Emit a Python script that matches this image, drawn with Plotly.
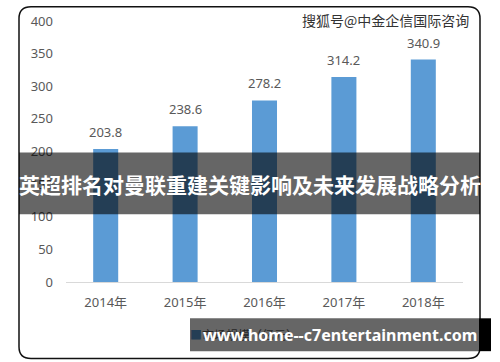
import plotly.graph_objects as go

years = ["2014年", "2015年", "2016年", "2017年", "2018年"]
values = [203.8, 238.6, 278.2, 314.2, 340.9]
value_labels = ["203.8", "238.6", "278.2", "314.2", "340.9"]
y_ticks = [0, 50, 100, 150, 200, 250, 300, 350, 400]
series_name = "市场规模（亿元）"
banner_title = "英超排名对曼联重建关键影响及未来发展战略分析"
watermark = "搜狐号@中金企信国际咨询"
site_text = "www.home--c7entertainment.com"

W, H = 500, 362
PL, PR, PT, PB = 66, 463, 16, 282


def px(x):
    return (x - PL) / (PR - PL)


def py(y):
    return (PB - y) / (PB - PT)


fig = go.Figure()
fig.add_trace(go.Bar(
    x=years, y=values,
    marker=dict(color="#5B9BD5", line=dict(width=0)),
    name=series_name, showlegend=False,
))

# rounded border
L, T, R, B, r = 19, 1.5, 480, 360, 12
path = (
    f"M {px(L + r)},{py(T)} L {px(R - r)},{py(T)} Q {px(R)},{py(T)} {px(R)},{py(T + r)} "
    f"L {px(R)},{py(B - r)} Q {px(R)},{py(B)} {px(R - r)},{py(B)} "
    f"L {px(L + r)},{py(B)} Q {px(L)},{py(B)} {px(L)},{py(B - r)} "
    f"L {px(L)},{py(T + r)} Q {px(L)},{py(T)} {px(L + r)},{py(T)} Z"
)
shapes = [
    dict(type="path", path=path, xref="paper", yref="paper",
         line=dict(color="#111111", width=1.5), layer="below"),
    dict(type="rect", xref="paper", yref="paper", x0=px(19), x1=px(480), y0=py(150), y1=py(213),
         fillcolor="rgba(0,0,0,0.6)", line=dict(width=0), layer="above"),
    dict(type="rect", xref="paper", yref="paper", x0=px(190), x1=px(479), y0=py(319), y1=py(352.5),
         fillcolor="rgba(0,0,0,0.6)", line=dict(width=0), layer="above"),
    dict(type="rect", xref="paper", yref="paper", x0=px(479), x1=px(491), y0=py(319), y1=py(352.5),
         fillcolor="#000000", line=dict(width=0), layer="above"),
]

annotations = [
    dict(x=yr, y=v, xref="x", yref="y", xanchor="center", yanchor="bottom", yshift=6,
         text=lbl, showarrow=False, font=dict(size=13, color="#595959", family="Noto Sans"))
    for yr, v, lbl in zip(years, values, value_labels)
]
annotations += [
    dict(x=px(188), y=py(336), xref="paper", yref="paper", xanchor="left", yanchor="middle",
         text=f"<span style='color:#243E55'>■</span>{series_name}", showarrow=False,
         font=dict(size=12, color="#262626", family="Noto Sans CJK SC")),
    dict(x=px(250), y=py(182), xref="paper", yref="paper", xanchor="center", yanchor="middle",
         text=f"<b>{banner_title}</b>", showarrow=False,
         font=dict(size=21, color="#FFFFFF", family="Noto Sans CJK SC")),
    dict(x=px(340), y=py(336), xref="paper", yref="paper", xanchor="center", yanchor="middle",
         text=f"<b>{site_text}</b>", showarrow=False,
         font=dict(size=16, color="#FFFFFF", family="Noto Sans")),
    dict(x=px(385), y=py(15), xref="paper", yref="paper", xanchor="center", yanchor="middle",
         text=watermark, showarrow=False,
         font=dict(size=14, color="#333333", family="Noto Sans CJK SC")),
]

fig.update_layout(
    width=W, height=H,
    margin=dict(l=PL, r=W - PR, t=PT, b=H - PB, pad=0),
    paper_bgcolor="white", plot_bgcolor="white",
    bargap=0.685,
    font=dict(family="Noto Sans, Noto Sans CJK SC", color="#595959", size=13),
    shapes=shapes, annotations=annotations,
    xaxis=dict(showgrid=False, showline=True, linecolor="#D9D9D9", linewidth=1,
               ticks="", tickfont=dict(size=13, color="#595959", family="Noto Sans, Noto Sans CJK SC"),
               ticklabelstandoff=8, fixedrange=True),
    yaxis=dict(range=[0, 400], tickvals=y_ticks, showgrid=False, zeroline=False, showline=False,
               tickfont=dict(size=13, color="#595959"), ticklabelstandoff=12, fixedrange=True),
)

fig.write_html(
    "out.html",
    config={"displayModeBar": False},
    post_script="document.body.style.margin='0';document.body.style.overflow='hidden';",
)
